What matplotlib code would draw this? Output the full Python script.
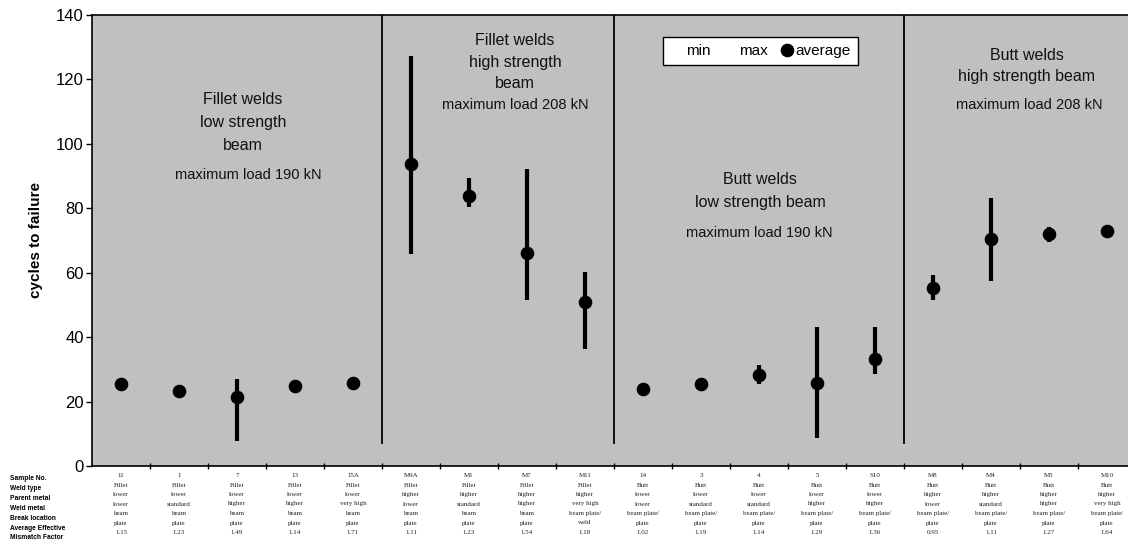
import matplotlib
matplotlib.use("Agg")
import matplotlib.pyplot as plt
from matplotlib.lines import Line2D

plt.rcParams['font.family'] = ['Liberation Sans', 'DejaVu Sans']

# ---------------- data ----------------
samples = ['11', '1', '7', '13', '15A', 'M9A', 'M1', 'M7', 'M11',
           '14', '3', '4', '5', 'S10', 'M8', 'M4', 'M5', 'M10']
avg_cycles = [25.4, 23.3, 21.5, 24.8, 25.9, 93.7, 83.9, 66.0, 51.0,
              23.9, 25.4, 28.4, 25.9, 33.1, 55.4, 70.5, 72.0, 73.0]
min_cycles = [25.4, 23.3, 7.8, 24.8, 25.9, 65.7, 80.5, 51.6, 36.3,
              23.9, 25.4, 25.5, 8.6, 28.6, 51.6, 57.5, 69.4, 73.0]
max_cycles = [25.4, 23.3, 27.0, 24.8, 25.9, 127.3, 89.3, 92.2, 60.1,
              23.9, 25.4, 31.2, 43.3, 43.3, 59.3, 83.3, 74.3, 73.0]
weld_type = ['Fillet'] * 9 + ['Butt'] * 9
parent_metal = ['lower'] * 5 + ['higher'] * 4 + ['lower'] * 5 + ['higher'] * 4
weld_metal = ['lower', 'standard', 'higher', 'higher', 'very high',
              'lower', 'standard', 'higher', 'very high',
              'lower', 'standard', 'standard', 'higher', 'higher',
              'lower', 'standard', 'higher', 'very high']
break_loc_1 = ['beam'] * 8 + ['beam plate/'] * 10
break_loc_2 = ['plate'] * 8 + ['weld'] + ['plate'] * 9
mismatch = ['1.15', '1.23', '1.49', '1.14', '1.71', '1.11', '1.23', '1.54', '1.18',
            '1.02', '1.19', '1.14', '1.29', '1.36', '0.95', '1.11', '1.27', '1.64']
row_labels = ['Sample No.', 'Weld type', 'Parent metal', 'Weld metal',
              'Break location', 'Average Effective', 'Mismatch Factor']
group_bounds = [4.5, 8.5, 13.5]
yticks = [0, 20, 40, 60, 80, 100, 120, 140]

# ---------------- figure ----------------
W, H = 1128, 546
fig = plt.figure(figsize=(W / 100, H / 100), dpi=100)
ax_left, ax_right, ax_top, ax_bot = 92, 92 + 18 * 58, 15, 466
ax = fig.add_axes([ax_left / W, (H - ax_bot) / H, (ax_right - ax_left) / W, (ax_bot - ax_top) / H])
ax.set_facecolor('#C0C0C0')
ax.set_xlim(-0.5, len(samples) - 0.5)
ax.set_ylim(0, 140)

x = list(range(len(samples)))
ax.vlines(x, min_cycles, max_cycles, colors='black', lw=3.0, zorder=3)
ax.plot(x, avg_cycles, 'o', color='black', ms=8.8, zorder=4)

for b in group_bounds:
    ax.plot([b, b], [7, 140], color='black', lw=1.3, zorder=2)

ax.set_yticks(yticks)
ax.set_yticklabels([str(v) for v in yticks], fontsize=12)
ax.tick_params(axis='y', direction='out', length=4, width=1, pad=2)
ax.set_xticks([i + 0.5 for i in range(len(samples) - 1)])
ax.set_xticklabels([])
ax.tick_params(axis='x', direction='inout', length=5, width=1)
for s in ax.spines.values():
    s.set_linewidth(1.2)
ax.set_ylabel('cycles to failure', fontsize=11, fontweight='bold', labelpad=9)

# group annotations (pixel positions -> data)
def dx(px):
    return (px - ax_left) / 58 - 0.5

def dy(py):
    return (ax_bot - py) / ((ax_bot - ax_top) / 140)

notes = [
    ('Fillet welds', 243, 100, 11.5), ('low strength', 243, 123, 11.5), ('beam', 243, 146, 11.5),
    ('maximum load 190 kN', 248, 175, 10.5),
    ('Fillet welds', 515, 41, 11.5), ('high strength', 515, 62.7, 11.5), ('beam', 515, 83.3, 11.5),
    ('maximum load 208 kN', 515, 105, 10.5),
    ('Butt welds', 760, 180, 11.5), ('low strength beam', 760, 203, 11.5),
    ('maximum load 190 kN', 759, 233, 10.5),
    ('Butt welds', 1027, 55, 11.5), ('high strength beam', 1027, 76, 11.5),
    ('maximum load 208 kN', 1029, 105, 10.5),
]
for t, px, py, fs in notes:
    ax.text(dx(px), dy(py), t, ha='center', va='center', fontsize=fs, color='#111111')

# legend
handles = [Line2D([], [], ls='none', marker='None'),
           Line2D([], [], ls='none', marker='None'),
           Line2D([], [], ls='none', marker='o', color='black', ms=8.8)]
leg = ax.legend(handles, ['min', 'max', 'average'], ncol=3, loc='upper left',
                bbox_to_anchor=((663 - ax_left) / (ax_right - ax_left), (ax_bot - 37) / (ax_bot - ax_top)),
                borderaxespad=0, fontsize=11, frameon=True, fancybox=False,
                handlelength=0.9, handletextpad=0.15, columnspacing=0.8,
                borderpad=0.45)
leg.get_frame().set_edgecolor('black')
leg.get_frame().set_facecolor('white')
leg.get_frame().set_linewidth(1.0)
leg.get_frame().set_alpha(1)

# bottom table
label_rows = [479, 489, 498.7, 508.7, 518.7, 528.3, 537.7]
for lbl, py in zip(row_labels, label_rows):
    fig.text(10 / W, 1 - py / H, lbl, ha='left', va='center', fontsize=4.8, fontweight='bold')

value_rows = [475.7, 485.3, 494.3, 504, 513.3, 523, 532.3]
cols = [samples, weld_type, parent_metal, weld_metal, break_loc_1, break_loc_2, mismatch]
for col, py in zip(cols, value_rows):
    for i, v in enumerate(col):
        px = ax_left + 58 * (i + 0.5)
        fig.text(px / W, 1 - py / H, v, ha='center', va='center', fontsize=5,
                 family=['Liberation Serif', 'DejaVu Serif'], color='#222222')

fig.savefig('out.png', dpi=100)
